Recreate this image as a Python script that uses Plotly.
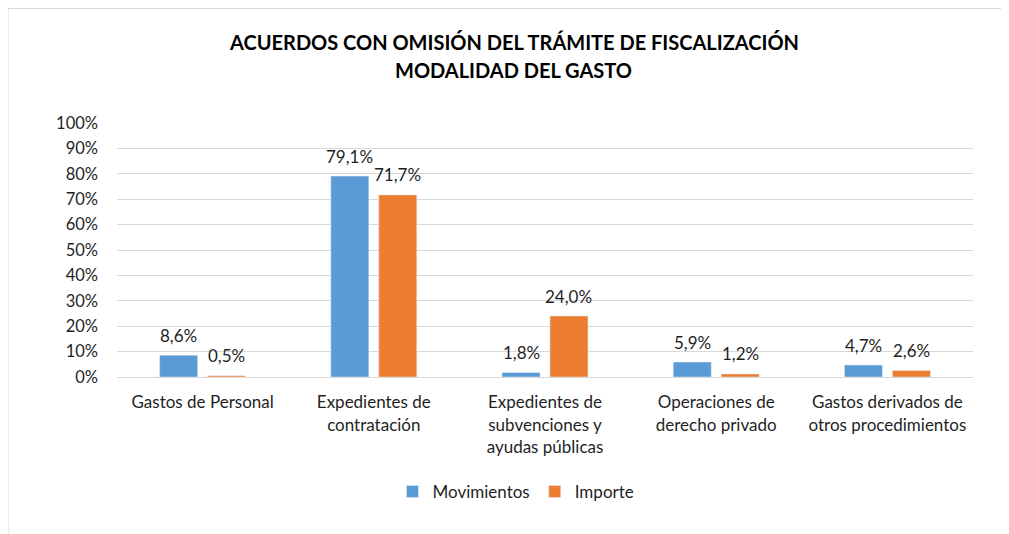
import plotly.graph_objects as go

categories = [
    "Gastos de Personal",
    "Expedientes de<br>contratación",
    "Expedientes de<br>subvenciones y<br>ayudas públicas",
    "Operaciones de<br>derecho privado",
    "Gastos derivados de<br>otros procedimientos",
]
movimientos = [8.6, 79.1, 1.8, 5.9, 4.7]
importe = [0.5, 71.7, 24.0, 1.2, 2.6]
tick_vals = [0, 10, 20, 30, 40, 50, 60, 70, 80, 90, 100]
tick_text = [f"{v}%" for v in tick_vals]

BLUE = "#5B9BD5"
ORANGE = "#ED7D31"
TXT = "#1f1f1f"
FONT = "Lato"

# page body has an 8px margin, so the figure is drawn 8px smaller
W, H = 1001, 526
ML, MR, MT, MB = 109, 36, 115, 157
bargap, bargroupgap = 0.44, 0.207
pw = W - ML - MR
ph = H - MT - MB

fig = go.Figure()
fig.add_trace(go.Bar(x=categories, y=movimientos, name="Movimientos",
                     marker_color=BLUE))
fig.add_trace(go.Bar(x=categories, y=importe, name="Importe",
                     marker_color=ORANGE))

# data labels, centred over each bar of the group
cat_w = pw / len(categories)
off = (1 - bargap) * cat_w / 4
labels = []
for vals, sh in ((movimientos, -off), (importe, off)):
    for c, v in zip(categories, vals):
        labels.append(dict(x=c, y=v, text=f"{v:.1f}%".replace(".", ","),
                           showarrow=False, xshift=sh, yshift=20,
                           yanchor="middle",
                           font=dict(family=FONT, size=17, color=TXT)))

# title, two lines
for txt, ypx in (("ACUERDOS CON OMISIÓN DEL TRÁMITE DE FISCALIZACIÓN", 34),
                 ("MODALIDAD DEL GASTO", 62)):
    labels.append(dict(text=f"<b>{txt}</b>", xref="paper", yref="paper",
                       x=(505.5 - ML) / pw,
                       y=(H - MB - ypx) / ph,
                       showarrow=False, xanchor="center", yanchor="middle",
                       font=dict(family=FONT, size=20, color="#000000")))

fig.update_layout(
    width=W, height=H,
    margin=dict(l=ML, r=MR, t=MT, b=MB),
    paper_bgcolor="white", plot_bgcolor="white",
    barmode="group", bargap=bargap, bargroupgap=bargroupgap,
    font=dict(family=FONT, color=TXT, size=16),
    annotations=labels,
    showlegend=True,
    legend=dict(orientation="h", x=(508 - ML) / pw, xanchor="center",
                y=(H - MB - 484) / ph, yanchor="middle",
                font=dict(family=FONT, size=17, color=TXT),
                itemwidth=30, traceorder="normal"),
    shapes=[dict(type="rect", xref="paper", yref="paper",
                 x0=(0 - ML) / pw, x1=1.5,
                 y0=-1.5, y1=(H - MB - 0.5) / ph,
                 line=dict(color="#D9D9D9", width=1), layer="below")],
)
fig.update_yaxes(range=[0, 100], tickvals=tick_vals, ticktext=tick_text,
                 showgrid=True, gridcolor="#D9D9D9", gridwidth=1,
                 zeroline=False, showline=False, ticks="",
                 ticklabelstandoff=18,
                 tickfont=dict(family=FONT, size=16.5, color=TXT))
fig.update_xaxes(showline=True, linecolor="#D9D9D9", linewidth=1,
                 ticks="", ticklabelstandoff=10,
                 tickfont=dict(family=FONT, size=17, color=TXT),
                 tickangle=0)

fig.write_html("out.html")
